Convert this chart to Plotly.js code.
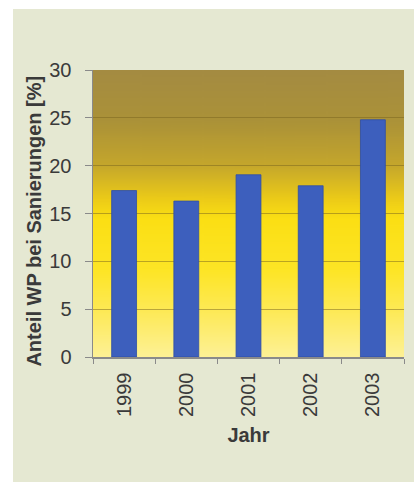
<!DOCTYPE html>
<html>
<head>
<meta charset="utf-8">
<script src="https://cdn.plot.ly/plotly-3.0.1.min.js"></script>
<style>
html,body{margin:0;padding:0;background:#ffffff;width:414px;height:482px;overflow:hidden;}
#chart{position:absolute;left:13px;top:9px;width:401px;height:473px;}
</style>
</head>
<body>
<div id="chart"></div>
<script>
const years = ["1999", "2000", "2001", "2002", "2003"];
const shares = [17.4, 16.3, 19.05, 17.9, 24.8];
const yTicks = [0, 5, 10, 15, 20, 25, 30];
const yTitle = "Anteil WP bei Sanierungen [%]";
const xTitle = "Jahr";

// vertical gradient for the plot background
const cv = document.createElement('canvas');
cv.width = 10; cv.height = 300;
const ctx = cv.getContext('2d');
const g = ctx.createLinearGradient(0, 0, 0, 300);
g.addColorStop(0.00, '#a48b42');
g.addColorStop(0.18, '#ab9238');
g.addColorStop(0.33, '#c4a62c');
g.addColorStop(0.45, '#eccb18');
g.addColorStop(0.52, '#fbdf14');
g.addColorStop(0.70, '#fde526');
g.addColorStop(0.85, '#fdea5a');
g.addColorStop(1.00, '#fdf196');
ctx.fillStyle = g;
ctx.fillRect(0, 0, 10, 300);
const bgURL = cv.toDataURL('image/png');

const FONT = "Arial, 'Liberation Sans', sans-serif";

const data = [{
  type: 'bar',
  x: years,
  y: shares,
  marker: {color: '#3d5fbd', line: {color: '#2f4ea6', width: 0.8}},
  hoverinfo: 'x+y'
}];

const layout = {
  width: 401, height: 473,
  margin: {l: 80, r: 10, t: 61, b: 125, autoexpand: false},
  paper_bgcolor: '#e5e8d2',
  plot_bgcolor: 'rgba(0,0,0,0)',
  bargap: 0.6,
  showlegend: false,
  font: {family: FONT, color: '#3a3a3a'},
  images: [{
    source: bgURL, xref: 'x domain', yref: 'y domain',
    x: 0, y: 1, sizex: 1, sizey: 1, sizing: 'stretch',
    xanchor: 'left', yanchor: 'top', layer: 'below'
  }],
  annotations: [{
    text: '<b>' + yTitle + '</b>',
    xref: 'paper', yref: 'paper',
    x: -0.19, y: 0.475, xanchor: 'center', yanchor: 'middle',
    textangle: -90, showarrow: false,
    font: {family: FONT, size: 20, color: '#3a3a3a'}
  }],
  xaxis: {
    type: 'category',
    tickangle: -90,
    tickfont: {family: FONT, size: 20, color: '#3a3a3a'},
    ticks: 'outside', tickson: 'boundaries', ticklen: 5, tickcolor: '#8a8a8a',
    ticklabelstandoff: 6,
    showline: true, linecolor: '#8a8a8a', linewidth: 1.5,
    showgrid: false,
    title: {text: '<b>' + xTitle + '</b>', font: {family: FONT, size: 20, color: '#3a3a3a'}, standoff: 12},
    automargin: false
  },
  yaxis: {
    range: [0, 30],
    tickvals: yTicks,
    ticktext: yTicks.map(String),
    tickfont: {family: FONT, size: 20, color: '#3a3a3a'},
    ticks: 'outside', ticklen: 7, tickcolor: '#8a8a8a',
    ticklabelstandoff: 9,
    showline: true, linecolor: '#8a8a8a', linewidth: 1.5,
    showgrid: true, gridcolor: 'rgba(120,100,30,0.5)', gridwidth: 1,
    zeroline: false,
    automargin: false
  }
};

Plotly.newPlot('chart', data, layout, {displayModeBar: false, staticPlot: true});
</script>
</body>
</html>
